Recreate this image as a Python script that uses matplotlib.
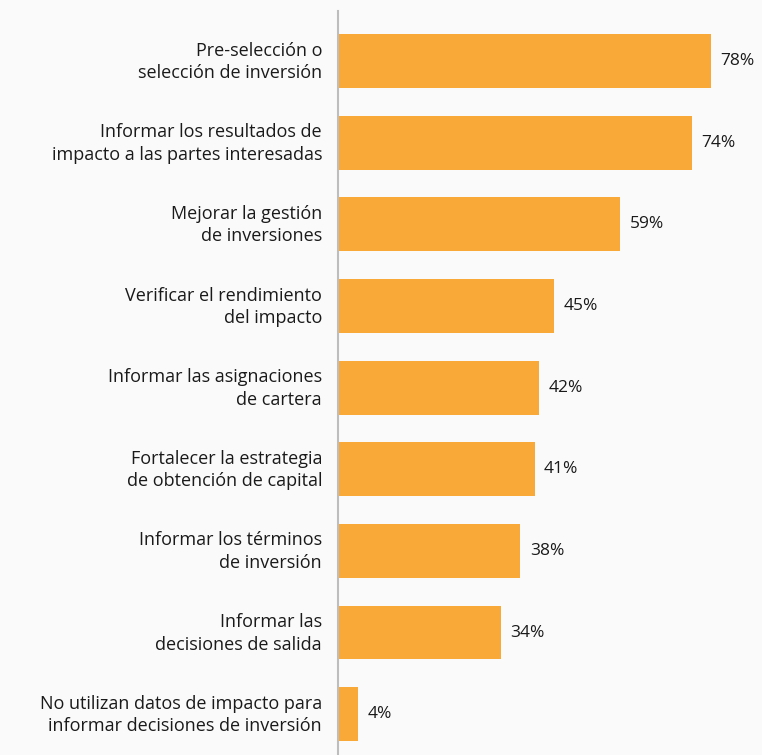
import matplotlib.pyplot as plt
from matplotlib.transforms import ScaledTranslation

categories = [
    'Pre-selección o\nselección de inversión',
    'Informar los resultados de\nimpacto a las partes interesadas',
    'Mejorar la gestión\nde inversiones',
    'Verificar el rendimiento\ndel impacto',
    'Informar las asignaciones\nde cartera',
    'Fortalecer la estrategia\nde obtención de capital',
    'Informar los términos\nde inversión',
    'Informar las\ndecisiones de salida',
    'No utilizan datos de impacto para\ninformar decisiones de inversión',
]
values = [78, 74, 59, 45, 42, 41, 38, 34, 4]
labels = ['78%', '74%', '59%', '45%', '42%', '41%', '38%', '34%', '4%']

bg = '#fafafa'
bar_color = '#f9a937'
txt = '#1a1a1a'

plt.rcParams['font.family'] = ['Open Sans', 'DejaVu Sans']

fig = plt.figure(figsize=(7.62, 7.55), dpi=100, facecolor=bg)
ax = fig.add_axes([0.4436, 0.0, 0.532, 0.9854], facecolor=bg)

pos = list(range(len(values)))
ax.barh(pos, values, height=0.66, color=bar_color, left=0.2)

for y, v, lab in zip(pos, values, labels):
    ax.text(v + 2.2, y, lab, va='center', ha='left', fontsize=12.5, color=txt)

ax.set_xlim(0, 85)
ax.set_ylim(8.5, -0.613)
ax.set_yticks(pos)
ax.set_yticklabels(categories, fontsize=13, color=txt, linespacing=1.33)
ax.tick_params(axis='y', length=0, pad=11.5)
ax.set_xticks([])

for s in ['top', 'right', 'bottom']:
    ax.spines[s].set_visible(False)
ax.spines['left'].set_color('#bdbdbd')
ax.spines['left'].set_linewidth(1.5)

# nudge the category labels up a little
shift = ScaledTranslation(0, 2.5 / 72, fig.dpi_scale_trans)
for t in ax.get_yticklabels():
    t.set_horizontalalignment('right')
    t.set_multialignment('right')
    t.set_transform(t.get_transform() + shift)

fig.savefig('out.png', dpi=100, facecolor=bg)
